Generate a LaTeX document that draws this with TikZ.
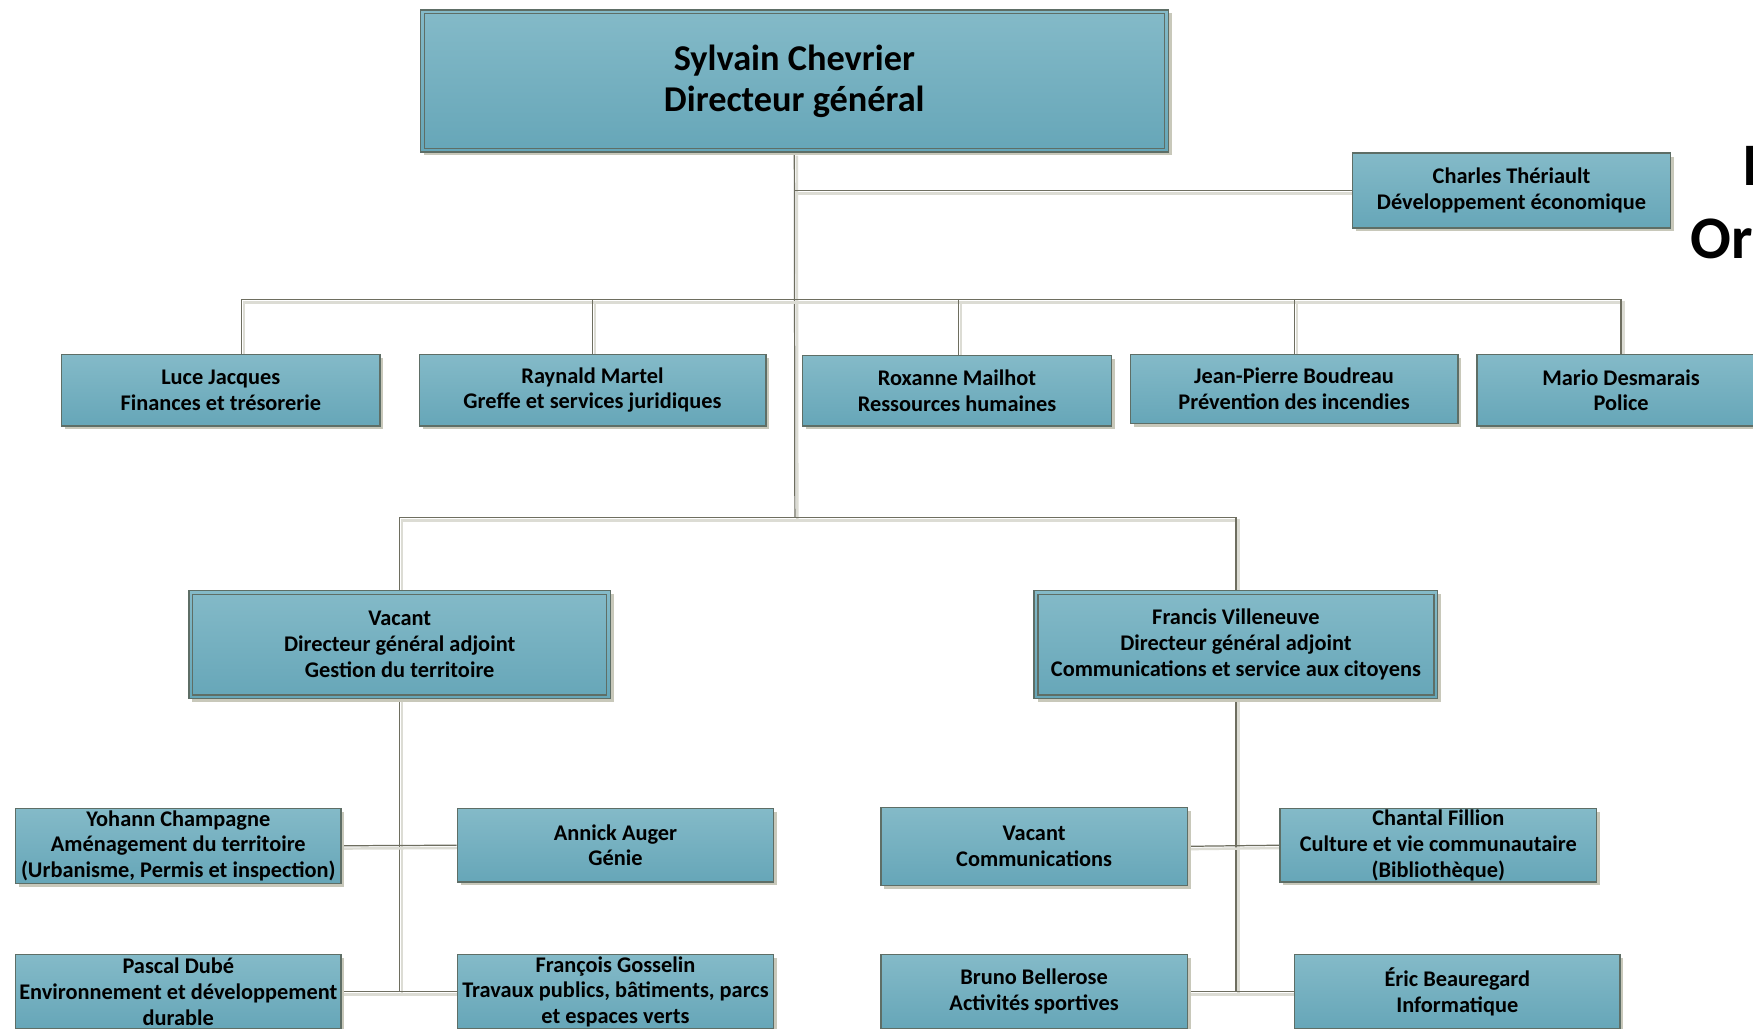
\documentclass[tikz,border=0pt]{standalone}
\usepackage{fontspec}
\setmainfont{Carlito}
\usetikzlibrary{shadows,calc,backgrounds}
\definecolor{boxtop}{HTML}{84BAC8}
\definecolor{boxbot}{HTML}{66A6B8}
\definecolor{boxline}{HTML}{5E6E66}
\definecolor{shadowc}{HTML}{C8C8BA}
\definecolor{linec}{HTML}{6E6E60}
\definecolor{lineshadow}{HTML}{DCDCD4}
\tikzset{
  orgbox/.style={draw=boxline, line width=1.2pt, top color=boxtop, bottom color=boxbot,
    align=center, inner sep=0pt, text=black,
    font=\bfseries\fontsize{20}{23}\selectfont,
    drop shadow={shadow xshift=3pt, shadow yshift=-3pt, fill=shadowc, opacity=1}},
  bigfont/.style={font=\bfseries\fontsize{32.5}{37}\selectfont},
  innerline/.style={draw=boxline, line width=1pt},
  conn/.style={draw=linec, line width=1.1pt,
    preaction={draw=lineshadow, line width=2.2pt, transform canvas={shift={(2.2pt,-2.5pt)}}}},
  titletext/.style={inner sep=0pt, text=black, font=\bfseries\fontsize{54}{60}\selectfont}
}
\begin{document}
\begin{tikzpicture}[x=1pt,y=-1pt]
\useasboundingbox (0,0) rectangle (1568,920.4);
% boxes
\node[orgbox, bigfont, minimum width=669pt, minimum height=127pt] (ceo) at (710.5,72.5) {Sylvain Chevrier\\Directeur général};
\node[orgbox, minimum width=284pt, minimum height=67pt] (charles) at (1352,170.5) {Charles Thériault\\Développement économique};
\node[orgbox, minimum width=285pt, minimum height=64pt] (luce) at (197.5,349) {Luce Jacques\\Finances et trésorerie};
\node[orgbox, minimum width=310pt, minimum height=64pt] (raynald) at (530,349) {Raynald Martel\\Greffe et services juridiques};
\node[orgbox, minimum width=276pt, minimum height=63pt] (roxanne) at (856,349.5) {Roxanne Mailhot\\Ressources humaines};
\node[orgbox, minimum width=293pt, minimum height=62pt] (jp) at (1157.5,348) {Jean-Pierre Boudreau\\Prévention des incendies};
\node[orgbox, minimum width=258pt, minimum height=64pt] (mario) at (1450,349) {Mario Desmarais\\Police};
\node[orgbox, minimum width=377pt, minimum height=97pt] (dga1) at (357.5,576.5) {Vacant\\Directeur général adjoint\\Gestion du territoire};
\node[orgbox, minimum width=361pt, minimum height=97pt] (dga2) at (1105.5,576.5) {Francis Villeneuve\\Directeur général adjoint\\Communications et service aux citoyens};
\node[orgbox, minimum width=291pt, minimum height=67pt] (yohann) at (159.5,756.5) {Yohann Champagne\\Aménagement du territoire\\(Urbanisme, Permis et inspection)};
\node[orgbox, minimum width=283pt, minimum height=66pt] (annick) at (550.5,756) {Annick Auger\\Génie};
\node[orgbox, minimum width=291pt, minimum height=66pt] (pascal) at (159.5,887) {Pascal Dubé\\Environnement et développement\\durable};
\node[orgbox, minimum width=283pt, minimum height=66pt] (francois) at (550.5,887) {François Gosselin\\Travaux publics, bâtiments, parcs\\et espaces verts};
\node[orgbox, minimum width=274pt, minimum height=70pt] (vcomm) at (925,757) {Vacant\\Communications};
\node[orgbox, minimum width=283pt, minimum height=66pt] (chantal) at (1286.5,756) {Chantal Fillion\\Culture et vie communautaire\\(Bibliothèque)};
\node[orgbox, minimum width=274pt, minimum height=66pt] (bruno) at (925,887) {Bruno Bellerose\\Activités sportives};
\node[orgbox, minimum width=291pt, minimum height=66pt] (eric) at (1303.5,887) {Éric Beauregard\\Informatique};
% inner double borders
\draw[innerline] ([shift={(4,4)}]ceo.north west) rectangle ([shift={(-4,-4)}]ceo.south east);
\draw[innerline] ([shift={(4,4)}]dga1.north west) rectangle ([shift={(-4,-4)}]dga1.south east);
\draw[innerline] ([shift={(4,4)}]dga2.north west) rectangle ([shift={(-4,-4)}]dga2.south east);
% title (cut off at the right edge, as in the reference)
\node[titletext, anchor=base west] (title1) at (1558,166) {I};
\node[titletext, anchor=base west] (title2) at (1512,231) {Or};
% connectors
\coordinate (bus2) at (711,268);
\coordinate (bus3) at (711,463);
\begin{scope}[on background layer]
\fill[white] (0,0) rectangle (1568,920.4);
\draw[conn] (ceo.south) -- (bus3);
\draw[conn] (ceo.south |- charles.west) -- (charles.west);
\draw[conn] ([xshift=18.5pt]luce.north) -- ([xshift=18.5pt]luce.north |- bus2) -| (mario.north);
\draw[conn] (raynald.north) -- (raynald.north |- bus2);
\draw[conn] ([xshift=1.5pt]roxanne.north) -- ([xshift=1.5pt]roxanne.north |- bus2);
\draw[conn] ([xshift=0.5pt]jp.north) -- ([xshift=0.5pt]jp.north |- bus2);
\draw[conn] (dga1.north) |- (bus3) -| (dga2.north);
\draw[conn] (dga1.south) -- (dga1.south |- pascal.east);
\draw[conn] (yohann.east) -- (annick.west);
\draw[conn] (pascal.east) -- (francois.west);
\draw[conn] (dga2.south) -- (dga2.south |- bruno.east);
\draw[conn] (vcomm.east) -- (chantal.west);
\draw[conn] (bruno.east) -- (eric.west);
\end{scope}
\end{tikzpicture}
\end{document}
